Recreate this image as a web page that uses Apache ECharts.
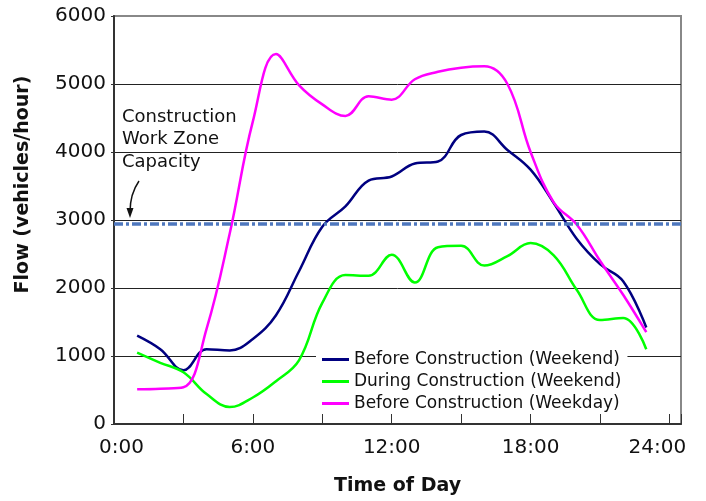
<!DOCTYPE html>
<html>
<head>
<meta charset="utf-8">
<script src="https://cdn.jsdelivr.net/npm/echarts@6/dist/echarts.min.js"></script>
<style>
  html, body { margin: 0; padding: 0; background: #fff; }
  #chart { width: 706px; height: 501px; }
</style>
</head>
<body>
<div id="chart"></div>
<script>
// hours of the day the counts were taken at
const hours = [1, 2, 3, 4, 5, 6, 7, 8, 9, 10, 11, 12, 13, 14, 15, 16, 17, 18, 19, 20, 21, 22, 23];

const beforeWeekend = [1300, 1100, 790, 1100, 1080, 1250, 1600, 2250, 2900, 3200, 3580, 3640, 3830, 3860, 4250, 4300, 4030, 3740, 3250, 2720, 2350, 2100, 1420];
const duringWeekend = [1050, 900, 760, 440, 250, 390, 630, 940, 1780, 2190, 2180, 2490, 2080, 2600, 2620, 2330, 2470, 2660, 2480, 1970, 1530, 1560, 1100];
const beforeWeekday = [510, 520, 540, 1400, 2800, 4450, 5440, 4980, 4700, 4530, 4820, 4770, 5070, 5180, 5240, 5260, 5000, 4000, 3260, 2930, 2400, 1900, 1350];

const workZoneCapacity = 2950;
const seriesNames = ['Before Construction (Weekend)', 'During Construction (Weekend)', 'Before Construction (Weekday)'];
const seriesColors = ['#000080', '#00ff00', '#ff00ff'];

const FONT = 'DejaVu Sans';

const toPairs = (vals) => hours.map((h, i) => [h, vals[i]]);

const chart = echarts.init(document.getElementById('chart'));

const lineSeries = (name, color, vals) => ({
  name: name,
  type: 'line',
  smooth: 0.4,
  symbol: 'none',
  data: toPairs(vals),
  lineStyle: { color: color, width: 2.5 },
  itemStyle: { color: color }
});

const s1 = lineSeries(seriesNames[0], seriesColors[0], beforeWeekend);
s1.markLine = {
  silent: true,
  symbol: 'none',
  label: { show: false },
  lineStyle: { color: '#4f78be', width: 3.5, type: [9, 3, 3, 3] },
  data: [{ yAxis: workZoneCapacity }]
};

const option = {
  backgroundColor: '#fff',
  animation: false,
  grid: {
    left: 114, right: 25, top: 16, bottom: 74,
    show: true, borderColor: '#888', borderWidth: 2
  },
  legend: {
    orient: 'vertical',
    left: 316,
    top: 349,
    padding: [2, 6, 2, 6],
    backgroundColor: '#fff',
    icon: 'rect',
    itemWidth: 27,
    itemHeight: 3,
    itemGap: 5,
    textStyle: { fontFamily: FONT, fontSize: 17, color: '#111' },
    data: seriesNames
  },
  xAxis: {
    type: 'value',
    min: 0,
    max: 24.5,
    interval: 3,
    name: 'Time of Day',
    nameLocation: 'middle',
    nameGap: 53,
    nameTextStyle: { fontFamily: FONT, fontSize: 19, fontWeight: 'bold', color: '#111' },
    axisLine: { show: true, lineStyle: { color: '#333', width: 2 } },
    axisTick: { show: true, inside: true, length: 10, lineStyle: { color: '#333', width: 1 } },
    splitLine: { show: false },
    axisLabel: {
      margin: 14,
      fontFamily: FONT,
      fontSize: 20,
      color: '#111',
      formatter: (v) => {
        if (v % 6 !== 0) return '';
        const t = v + ':00';
        if (v === 0) return '{first|' + t + '}';
        if (v === 24) return '{last|' + t + '}';
        return t;
      },
      rich: {
        first: { fontFamily: FONT, fontSize: 20, color: '#111', padding: [0, 0, 0, 15] },
        last: { fontFamily: FONT, fontSize: 20, color: '#111', padding: [0, 24, 0, 0] }
      }
    }
  },
  yAxis: {
    type: 'value',
    min: 0,
    max: 6000,
    interval: 1000,
    name: 'Flow (vehicles/hour)',
    nameLocation: 'middle',
    nameGap: 81,
    nameTextStyle: { fontFamily: FONT, fontSize: 19, fontWeight: 'bold', color: '#111', padding: [0, 0, 0, 71] },
    axisLine: { show: true, lineStyle: { color: '#333', width: 2 } },
    axisTick: { show: true, length: 3, lineStyle: { color: '#333' } },
    splitLine: {
      show: true,
      lineStyle: { color: ['#222', '#222', '#222', '#222', '#222', '#222', '#888'], width: 1 }
    },
    axisLabel: {
      margin: 8,
      fontFamily: FONT,
      fontSize: 20,
      color: '#111',
      formatter: (v) => String(v)
    }
  },
  series: [
    s1,
    lineSeries(seriesNames[1], seriesColors[1], duringWeekend),
    lineSeries(seriesNames[2], seriesColors[2], beforeWeekday)
  ],
  graphic: [
    {
      type: 'text',
      left: 122,
      top: 106,
      style: {
        text: 'Construction\nWork Zone\nCapacity',
        font: '18px "DejaVu Sans"',
        lineHeight: 22.5,
        fill: '#111'
      }
    },
    {
      type: 'bezierCurve',
      shape: { x1: 139, y1: 181, cpx1: 130, cpy1: 194, x2: 130, y2: 212 },
      style: { stroke: '#111', lineWidth: 1.5, fill: null }
    },
    {
      type: 'polygon',
      shape: { points: [[126.5, 208], [133.5, 208], [130, 218]] },
      style: { fill: '#111' }
    }
  ]
};

chart.setOption(option);
</script>
</body>
</html>
